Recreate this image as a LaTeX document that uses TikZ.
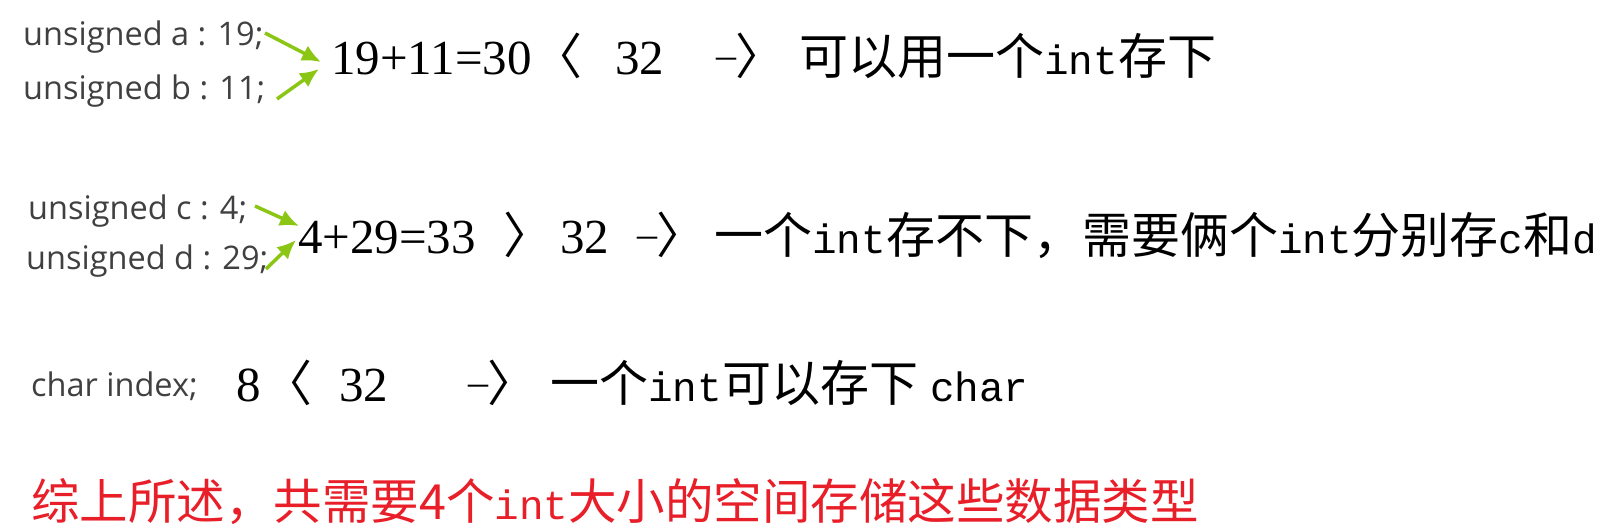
\documentclass[tikz,border=0pt]{standalone}
\usepackage{fontspec}
\setmainfont{Liberation Serif}
\newfontfamily\cjk{Noto Sans CJK SC}
\newfontfamily\lblfont{Open Sans}
\newfontfamily\monofont{Liberation Mono}
\usetikzlibrary{arrows.meta}
\newcommand\fsz[1]{\fontsize{#1}{#1}\selectfont}
\definecolor{arrowgreen}{RGB}{140,198,20}
\definecolor{labelgray}{RGB}{64,64,64}
\definecolor{notered}{RGB}{232,30,40}
\tikzset{
  piece/.style={inner sep=0pt, anchor=base west},
  lbl/.style={piece, text=labelgray, font=\lblfont\fsz{32.5}},
  num/.style={piece, font=\fsz{49}},
  zh/.style={piece, font=\cjk\fsz{49}},
  grarrow/.style={draw=arrowgreen, line width=3.5pt, -{Latex[length=19pt,width=17pt]}}
}
\newcommand\mono[1]{{\monofont\fsz{41}#1}}
\newcommand\toarrow{\raisebox{6pt}{\rmfamily\fsz{40}–}\kern-1pt〉}
\begin{document}
\begin{tikzpicture}[x=1pt,y=-1pt]
\useasboundingbox (0,0) rectangle (1612,532);
% row 1
\node[lbl] (la) at (23,46) {unsigned a : 19;};
\node[lbl] (lb) at (23,100) {unsigned b : 11;};
\node[num] (sum1) at (331,75) {19+11=30};
\node[zh] (lt1) at (533,75) {〈};
\node[num] (tt1) at (615,75) {32};
\node[zh] (ar1) at (716,75) {\toarrow};
\node[zh] (zh1) at (799,75) {可以用一个\mono{int}存下};
\coordinate (a1s) at (265,33);
\coordinate (a1e) at (321,62);
\coordinate (a2s) at (277,99);
\coordinate (a2e) at (319,69);
\draw[grarrow] (a1s) -- (a1e);
\draw[grarrow] (a2s) -- (a2e);
% row 2
\node[lbl] (lc) at (28,219) {unsigned c : 4;};
\node[lbl] (ld) at (26,269) {unsigned d : 29;};
\node[num] (sum2) at (298,253) {4+29=33};
\node[zh] (gt2) at (503,253) {〉};
\node[num] (tt2) at (560,253) {32};
\node[zh] (ar2) at (637,253) {\toarrow};
\node[zh] (zh2) at (714,253) {一个\mono{int}存不下，需要俩个\mono{int}分别存\mono{c}和\mono{d}};
\coordinate (a3s) at (255,206);
\coordinate (a3e) at (299,226);
\coordinate (a4s) at (266,269);
\coordinate (a4e) at (296,240);
\draw[grarrow] (a3s) -- (a3e);
\draw[grarrow] (a4s) -- (a4e);
% row 3
\node[lbl] (li) at (31,396) {char index;};
\node[num] (n3) at (236,401) {8};
\node[zh] (lt3) at (263,401) {〈};
\node[num] (tt3) at (339,401) {32};
\node[zh] (ar3) at (468,401) {\toarrow};
\node[zh] (zh3) at (550,401) {一个\mono{int}可以存下\hspace{12pt}\mono{char}};
% row 4
\node[piece, text=notered, font=\cjk\fsz{48.5}] (sumup) at (31,519) {综上所述，共需要4个\mono{int}大小的空间存储这些数据类型};
\end{tikzpicture}
\end{document}
